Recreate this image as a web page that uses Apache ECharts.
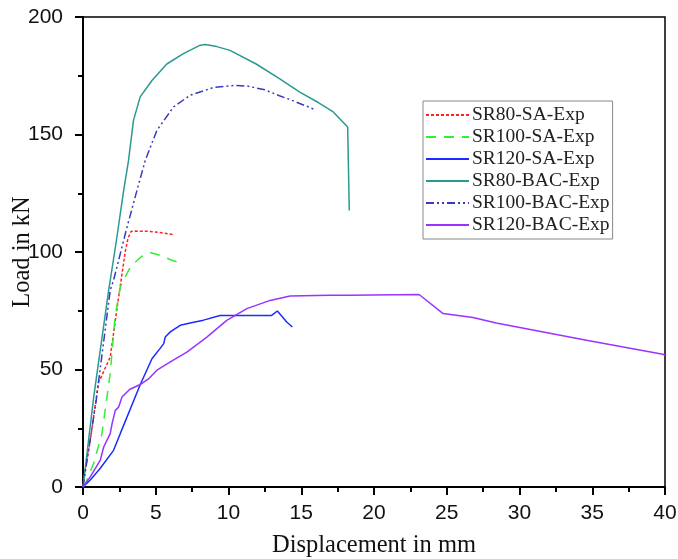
<!DOCTYPE html>
<html>
<head>
<meta charset="utf-8">
<script src="https://cdn.jsdelivr.net/npm/echarts@6/dist/echarts.min.js"></script>
<style>html,body{margin:0;padding:0;background:#fff}#c{width:678px;height:559px}</style>
</head>
<body>
<div id="c"></div>
<script>
// Displacement (mm), Load (kN) pairs
const sr80SA = [[0,0],[0.04,2.8],[0.5,19.9],[1.07,44.7],[1.19,46],[1.87,55.3],[2.45,80.9],[2.9,100],[3.1,106],[3.3,108.7],[3.6,108.9],[4.5,108.8],[5.3,108.3],[6.2,107.4]];
const sr100SA = [[0,0],[0.16,1.4],[0.73,10],[1.3,22.7],[1.87,48.3],[2.2,72.3],[2.56,85.1],[3.25,93.6],[4.0,98],[4.6,99.8],[5.3,98.6],[6.1,96.5],[6.9,95]];
const sr120SA = [[0,0],[0.5,3],[1.19,8],[2.1,15.6],[2.56,22.7],[3.93,43.5],[4.74,54.6],[5.3,59],[5.55,61],[5.65,63.8],[6.0,66],[6.68,68.8],[7.36,69.8],[8.28,71],[9.42,73],[10.1,73],[12.97,73],[13.36,74.9],[14.0,70.2],[14.39,68.1]];
const sr80BAC = [[0,0],[0.73,38],[1.76,83.6],[2.3,105],[2.79,126],[3.13,139],[3.47,156],[3.93,166],[4.74,173],[5.76,180],[6.9,184.4],[8.06,188],[8.4,188.3],[9.2,187.4],[10.1,185.8],[11.9,180],[13.5,173.8],[14.9,168],[16.2,163.5],[17.2,159.6],[18.19,153.2],[18.3,117.7]];
const sr100BAC = [[0,0],[0.91,37],[1.87,83.7],[2.1,88],[3.0,110],[3.7,126],[4.28,139],[5.08,151.8],[6.22,161.7],[7.36,166.7],[8.96,170],[10.5,170.9],[11.3,170.6],[12.5,169],[13.5,166.5],[14.46,164.3],[15.9,160.7]];
const sr120BAC = [[0,0],[0.5,4.3],[1.19,11.4],[1.42,17],[1.87,22.7],[2.0,27],[2.22,32.6],[2.45,34],[2.68,38.3],[3.2,41.5],[3.93,43.6],[4.5,46],[5.08,49.7],[6.0,53.2],[7.14,57.4],[8.51,63.8],[9.88,70.9],[11.26,75.9],[12.86,79.4],[14.23,81.3],[16.97,81.6],[18.35,81.6],[23.1,81.9],[24.75,73.8],[26.8,72.1],[28.4,69.8],[34.6,62.4],[39.85,56.5],[40,56.2]];
const names = ['SR80-SA-Exp','SR100-SA-Exp','SR120-SA-Exp','SR80-BAC-Exp','SR100-BAC-Exp','SR120-BAC-Exp'];
const xTicks = [0,5,10,15,20,25,30,35,40];
const yTicks = [0,50,100,150,200];

const datasets = [sr80SA, sr100SA, sr120SA, sr80BAC, sr100BAC, sr120BAC];
const colors = ['#ff2222','#33ee33','#1a2cff','#2a9a90','#3a3ac0','#9b33ff'];
const dashes = [[3,2],[10,8],'solid','solid',[8,3,2,3,2,3],'solid'];

const chart = echarts.init(document.getElementById('c'));
chart.setOption({
  animation: false,
  grid: {left: 83, right: 13, top: 17, bottom: 72, outerBoundsMode: 'none', containLabel: false, show: true, borderColor: '#000', borderWidth: 1.5, backgroundColor: 'transparent'},
  legend: {
    orient: 'vertical', left: 423, top: 101, width: 180,
    itemWidth: 43, itemHeight: 14, itemGap: 2,
    padding: [4, 3, 4, 2],
    borderColor: '#888', borderWidth: 1, backgroundColor: '#fff',
    itemStyle: {opacity: 0},
    textStyle: {fontFamily: 'Liberation Serif', fontSize: 19.5, lineHeight: 18, color: '#222', padding: [0,0,0,-2]},
    data: names
  },
  xAxis: {
    type: 'value', min: xTicks[0], max: xTicks[xTicks.length-1], interval: 5,
    name: 'Displacement in mm', nameLocation: 'middle', nameGap: 46, nameMoveOverlap: false,
    nameTextStyle: {fontFamily: 'Liberation Serif', fontSize: 24.5, color: '#111'},
    axisLine: {show: true, lineStyle: {color: '#000', width: 2}},
    axisTick: {show: true, length: 8, lineStyle: {color: '#000', width: 2}},
    minorTick: {show: true, splitNumber: 2, length: 5, lineStyle: {color: '#000', width: 2}},
    splitLine: {show: false},
    axisLabel: {fontFamily: 'Liberation Sans', fontSize: 21, color: '#111', margin: 16}
  },
  yAxis: {
    type: 'value', min: yTicks[0], max: yTicks[yTicks.length-1], interval: 50,
    name: 'Load in kN', nameLocation: 'middle', nameGap: 48, nameMoveOverlap: false,
    nameTextStyle: {fontFamily: 'Liberation Serif', fontSize: 24.5, color: '#111'},
    axisLine: {show: true, lineStyle: {color: '#000', width: 2}},
    axisTick: {show: true, length: 8, lineStyle: {color: '#000', width: 2}},
    minorTick: {show: true, splitNumber: 2, length: 5, lineStyle: {color: '#000', width: 2}},
    splitLine: {show: false},
    axisLabel: {fontFamily: 'Liberation Sans', fontSize: 21, color: '#111', margin: 20}
  },
  series: names.map((n, i) => ({
    name: n, type: 'line', data: datasets[i], showSymbol: false, symbol: 'none',
    color: colors[i],
    lineStyle: {color: colors[i], width: 1.5, type: dashes[i]}
  }))
});
</script>
</body>
</html>
